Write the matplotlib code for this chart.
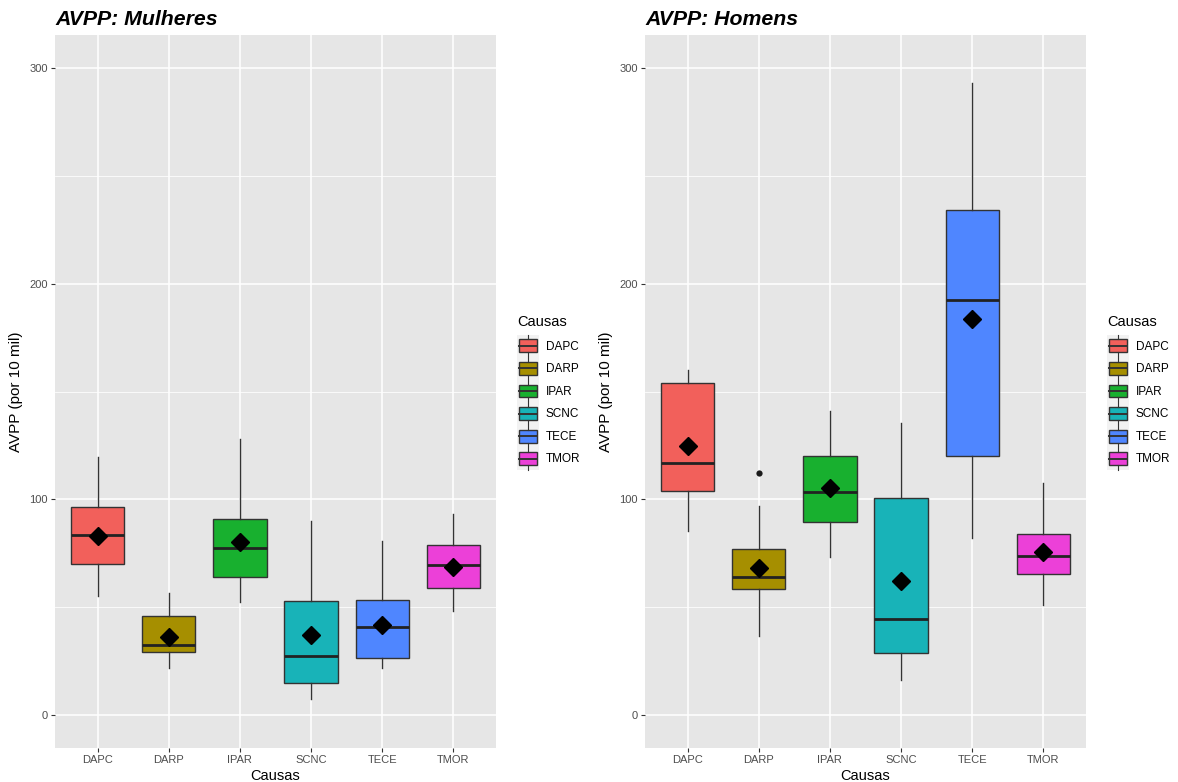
import numpy as np
import matplotlib.pyplot as plt
from matplotlib.patches import Rectangle
from matplotlib.lines import Line2D
from matplotlib.legend_handler import HandlerBase

plt.rcParams['font.family'] = ['Liberation Sans', 'DejaVu Sans']

causas = ['DAPC', 'DARP', 'IPAR', 'SCNC', 'TECE', 'TMOR']
cores = ['#F2605B', '#A68F00', '#18B02F', '#18B3B8', '#4F86FF', '#EC40D8']

# resumo dos boxplots: minimo, Q1, mediana, Q3, maximo (bigodes) e media
mulheres_min = [55.2, 21.9, 52.2, 7.3, 21.6, 48.4]
mulheres_q1 = [69.9, 29.2, 63.8, 14.7, 26.6, 58.9]
mulheres_med = [83.4, 32.5, 77.6, 27.5, 40.9, 69.7]
mulheres_q3 = [96.6, 46.0, 91.0, 53.0, 53.3, 79.0]
mulheres_max = [119.7, 56.4, 127.8, 89.8, 80.8, 93.3]
mulheres_media = [83.0, 36.3, 80.1, 37.1, 41.7, 68.8]
mulheres_out = [[], [], [], [], [], []]

homens_min = [85.5, 36.6, 73.2, 16.2, 82.2, 51.0]
homens_q1 = [104.0, 58.4, 89.3, 28.6, 120.2, 65.5]
homens_med = [116.7, 64.0, 103.4, 44.4, 192.4, 73.6]
homens_q3 = [154.1, 76.8, 120.1, 100.7, 234.0, 83.8]
homens_max = [159.9, 97.1, 141.1, 135.2, 293.1, 107.4]
homens_media = [124.9, 68.3, 105.2, 62.0, 183.7, 75.6]
homens_out = [[], [112.2], [], [], [], []]


def resumo(mn, q1, med, q3, mx, media, out):
    return [dict(label=c, whislo=a, q1=b, med=m, q3=d, whishi=e, mean=f,
                 fliers=np.array(o))
            for c, a, b, m, d, e, f, o in zip(causas, mn, q1, med, q3, mx, media, out)]


class BoxKey(HandlerBase):
    # chave da legenda no estilo do ggplot: fundo cinza claro + mini boxplot
    def create_artists(self, legend, orig, xd, yd, w, h, fs, trans):
        x0, y0 = -xd, -yd
        fundo = Rectangle((x0, y0), w, h, facecolor='#F2F2F2', edgecolor='none',
                          transform=trans)
        caixa = Rectangle((x0 + 0.09 * w, y0 + 0.21 * h), 0.82 * w, 0.58 * h,
                          facecolor=orig.get_facecolor(), edgecolor='#333333',
                          lw=1.0, transform=trans)
        med = Line2D([x0 + 0.09 * w, x0 + 0.91 * w], [y0 + 0.5 * h] * 2,
                     color='#333333', lw=1.4, transform=trans)
        b1 = Line2D([x0 + 0.5 * w] * 2, [y0 + 0.79 * h, y0 + h], color='#333333',
                    lw=0.8, transform=trans)
        b2 = Line2D([x0 + 0.5 * w] * 2, [y0, y0 + 0.21 * h], color='#333333',
                    lw=0.8, transform=trans)
        return [fundo, caixa, med, b1, b2]


fig = plt.figure(figsize=(11.78, 7.82), dpi=100)
W, H = 1178, 782
paineis = [
    ('AVPP: Mulheres', 55, resumo(mulheres_min, mulheres_q1, mulheres_med, mulheres_q3,
                                  mulheres_max, mulheres_media, mulheres_out), 517),
    ('AVPP: Homens', 645, resumo(homens_min, homens_q1, homens_med, homens_q3,
                                 homens_max, homens_media, homens_out), 1107),
]

for titulo, x0, stats, xleg in paineis:
    ax = fig.add_axes([x0 / W, 1 - 748 / H, 441 / W, 713 / H])
    ax.set_facecolor('#E6E6E6')
    pos = np.arange(1, len(causas) + 1)
    bp = ax.bxp(stats, positions=pos, widths=0.75, patch_artist=True,
                showcaps=False, showmeans=True,
                boxprops=dict(edgecolor='#333333', lw=1.0),
                whiskerprops=dict(color='#333333', lw=1.0),
                medianprops=dict(color='#222222', lw=2.0),
                meanprops=dict(marker='D', markerfacecolor='black',
                               markeredgecolor='black', markersize=9.5),
                flierprops=dict(marker='o', markerfacecolor='#1A1A1A',
                                markeredgecolor='none', markersize=4.5))
    for caixa, cor in zip(bp['boxes'], cores):
        caixa.set_facecolor(cor)

    ax.set_xlim(0.4, 6.6)
    ax.set_ylim(-15.3, 315.3)
    ax.set_xticks(pos)
    ax.set_xticklabels(causas)
    ax.set_yticks([0, 100, 200, 300])
    ax.set_yticks([50, 150, 250], minor=True)
    ax.grid(True, which='major', color='white', lw=1.1)
    ax.grid(True, which='minor', axis='y', color='white', lw=0.55)
    ax.set_axisbelow(True)
    for s in ax.spines.values():
        s.set_visible(False)
    ax.tick_params(which='major', length=3, width=0.8, color='#333333',
                   labelsize=8, labelcolor='#4D4D4D', pad=2)
    ax.tick_params(which='minor', length=0)
    ax.set_xlabel('Causas', fontsize=10.5, labelpad=3)
    ax.set_ylabel('AVPP (por 10 mil)', fontsize=11, labelpad=5)
    ax.set_title(titulo, loc='left', fontsize=15.3, fontweight='bold',
                 fontstyle='italic', pad=7)

    handles = [Rectangle((0, 0), 1, 1, facecolor=c) for c in cores]
    leg = fig.legend(handles, causas, title='Causas', loc='center left',
                     bbox_to_anchor=(xleg / W, 1 - 392.5 / H), frameon=False,
                     fontsize=8.5, title_fontsize=10.5, alignment='left',
                     handler_map={Rectangle: BoxKey()}, handlelength=1.85,
                     handleheight=2.53, labelspacing=0.02, handletextpad=0.6,
                     borderpad=0, borderaxespad=0)
    # espaco entre o titulo da legenda e as chaves
    leg._legend_box.sep = 4

fig.savefig('out.png', dpi=100)
